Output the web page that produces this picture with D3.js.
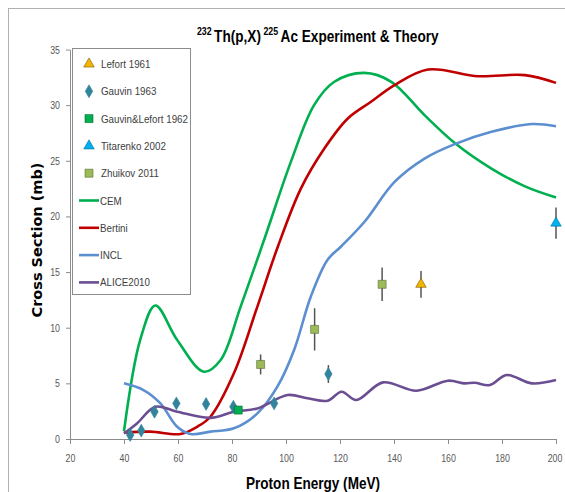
<!DOCTYPE html>
<html lang="en">
<head>
    <meta charset="UTF-8">
    <title>232Th(p,X)225Ac Experiment & Theory</title>
    <script src="https://d3js.org/d3.v7.min.js"></script>
    <style>
        body { margin: 0; background: #fff; }
        text { font-family: "Liberation Sans", Arial, sans-serif; }
    </style>
</head>
<body>
    <svg></svg>
    <script>
        const w = 565;
        const h = 492;

        // theory curves: [energy, cross section]
        const cem = [[40, 0.7], [46, 8.9], [51.6, 12.0], [59.7, 8.9], [69.6, 6.05], [75.8, 7.1], [83.2, 11.9],
            [91.9, 17.9], [101.8, 24.9], [110.4, 30.0], [117.9, 32.1], [129, 32.9], [139, 32.1], [151.3, 29.1],
            [162.5, 26.6], [176.1, 24.3], [188.5, 22.7], [200, 21.7]];
        const bertini = [[40, 0.57], [49.7, 0.66], [60.9, 0.45], [67.1, 1.1], [72, 2.0], [80.7, 5.9], [89.4, 11.9],
            [97, 17.3], [105.5, 22.5], [114.2, 26.1], [122.9, 28.8], [131.5, 30.3], [140.2, 31.8], [152.6, 33.2],
            [171.2, 32.6], [188.5, 32.7], [200, 32.0]];
        const incl = [[40, 5.0], [47.2, 4.4], [53.5, 3.2], [59.7, 1.1], [64.6, 0.45], [72, 0.66], [80.7, 0.96],
            [89.4, 2.3], [96.8, 4.7], [103, 8.0], [109.2, 12.8], [115.4, 16.1], [120.4, 17.3], [129, 19.5],
            [140.2, 23.1], [151.3, 25.2], [162.5, 26.5], [176.1, 27.6], [191, 28.3], [200, 28.1]];
        const alice = [[40, 0.5], [44.8, 1.4], [51.6, 2.9], [59.7, 2.45], [72, 1.9], [80.7, 2.45], [89.4, 2.75],
            [100.6, 3.95], [108, 3.66], [115.4, 3.44], [120.6, 4.25], [126, 3.5], [135.9, 5.09], [148.3, 4.34],
            [160, 5.24], [166.2, 5.0], [169.9, 5.06], [175.5, 4.85], [181.7, 5.75], [191, 5.0], [200, 5.3]];

        // experiments: [energy, cross section, error]
        const lefort = [[150, 13.9, 1.2]];
        const gauvin = [[42.3, 0.36, 0], [46.4, 0.75, 0], [51.3, 2.45, 0], [59.4, 3.2, 0], [70.4, 3.15, 0],
            [80.5, 2.9, 0], [95.6, 3.2, 0], [115.7, 5.84, 0.8]];
        const gauvinLefort = [[82.3, 2.6, 0]];
        const titarenko = [[200, 19.4, 1.4]];
        const zhuikov = [[90.6, 6.7, 0.9], [110.6, 9.85, 1.9], [135.6, 13.9, 1.5]];

        const xTicks = [20, 40, 60, 80, 100, 120, 140, 160, 180, 200];
        const yTicks = [0, 5, 10, 15, 20, 25, 30, 35];

        const svg = d3.select("svg")
            .attr("width", w)
            .attr("height", h);

        // squeeze text a bit, the original uses a narrow font
        function narrow(sel, k) {
            sel.each(function () {
                const len = this.getComputedTextLength();
                d3.select(this).attr("textLength", len * k).attr("lengthAdjust", "spacingAndGlyphs");
            });
        }

        // outer chart frame
        svg.append("rect")
            .attr("x", 8.5).attr("y", 8.5)
            .attr("width", 600).attr("height", 600)
            .attr("fill", "none")
            .attr("stroke", "#b0b0b0");

        const x = d3.scaleLinear().domain([20, 200]).range([70, 556]);
        const y = d3.scaleLinear().domain([0, 35]).range([439, 49.5]);

        const xAxis = svg.append("g")
            .attr("transform", "translate(0,439)")
            .call(d3.axisBottom(x).tickValues(xTicks).tickSize(5).tickSizeOuter(0).tickPadding(10));
        const yAxis = svg.append("g")
            .attr("transform", "translate(70,0)")
            .call(d3.axisLeft(y).tickValues(yTicks).tickSize(4).tickSizeOuter(0).tickPadding(6));
        [xAxis, yAxis].forEach(a => {
            a.select(".domain").attr("stroke", "#8c8c8c");
            a.selectAll(".tick line").attr("stroke", "#8c8c8c");
            a.selectAll(".tick text")
                .attr("fill", "#595959")
                .style("font-size", "11px")
                .style("font-family", "'Liberation Sans', sans-serif")
                .call(narrow, 0.8);
        });
        // keep the last label inside the window
        xAxis.selectAll(".tick text").filter(d => d === 200).attr("dx", -1.5);

        // title, built from separate pieces so the superscripts don't collide
        const titleParts = [
            { t: "232", sup: true }, { t: "Th(p,X)", sup: false },
            { t: "225", sup: true }, { t: "Ac Experiment & Theory", sup: false }
        ];
        const title = svg.append("g");
        let tx = 0;
        titleParts.forEach(p => {
            const el = title.append("text")
                .attr("x", tx)
                .attr("y", p.sup ? -7 : 0)
                .style("font-size", p.sup ? "11px" : "17px")
                .style("font-weight", "bold")
                .attr("fill", "#000")
                .text(p.t);
            const len = el.node().getComputedTextLength() * 0.8;
            el.attr("textLength", len).attr("lengthAdjust", "spacingAndGlyphs");
            tx += len + 2.5;
        });
        title.attr("transform", `translate(${319 - tx / 2},42)`);

        svg.append("text")
            .attr("transform", "translate(42,240) rotate(-90)")
            .attr("text-anchor", "middle")
            .style("font-family", "'DejaVu Sans', sans-serif")
            .style("font-size", "14.5px")
            .style("font-weight", "bold")
            .text("Cross Section (mb)");

        svg.append("text")
            .attr("x", 313).attr("y", 489)
            .attr("text-anchor", "middle")
            .style("font-size", "17px")
            .style("font-weight", "bold")
            .attr("textLength", 134)
            .attr("lengthAdjust", "spacingAndGlyphs")
            .text("Proton Energy (MeV)");

        // curves
        const line = d3.line()
            .x(d => x(d[0]))
            .y(d => y(d[1]))
            .curve(d3.curveCatmullRom.alpha(0.5));

        const curves = [
            { data: cem, color: "#00b050", name: "CEM" },
            { data: bertini, color: "#c00000", name: "Bertini" },
            { data: incl, color: "#5b8fd0", name: "INCL" },
            { data: alice, color: "#6b4e92", name: "ALICE2010" }
        ];
        curves.forEach(c => {
            svg.append("path")
                .datum(c.data)
                .attr("fill", "none")
                .attr("stroke", c.color)
                .attr("stroke-width", 2.6)
                .attr("stroke-linejoin", "round")
                .attr("d", line);
        });

        // markers
        const tri = d3.symbol().type(d3.symbolTriangle).size(48);
        const dia = d3.symbol().type(d3.symbolDiamond).size(48);
        const sq = d3.symbol().type(d3.symbolSquare).size(64);

        const sets = [
            { data: lefort, shape: tri, fill: "#f5b400", stroke: "#7a5a00", name: "Lefort 1961" },
            { data: gauvin, shape: dia, fill: "#31849b", stroke: "#31849b", name: "Gauvin 1963" },
            { data: gauvinLefort, shape: sq, fill: "#00b050", stroke: "#006a30", name: "Gauvin&Lefort 1962" },
            { data: titarenko, shape: tri, fill: "#00b0f0", stroke: "#0070a0", name: "Titarenko 2002" },
            { data: zhuikov, shape: sq, fill: "#9bbb59", stroke: "#5b6b35", name: "Zhuikov 2011" }
        ];
        sets.forEach(s => {
            const g = svg.append("g");
            g.selectAll("line")
                .data(s.data.filter(d => d[2] > 0))
                .enter()
                .append("line")
                .attr("x1", d => x(d[0])).attr("x2", d => x(d[0]))
                .attr("y1", d => y(d[1] - d[2])).attr("y2", d => y(d[1] + d[2]))
                .attr("stroke", "#555")
                .attr("stroke-width", 1.5);
            g.selectAll("path")
                .data(s.data)
                .enter()
                .append("path")
                .attr("d", s.shape)
                .attr("transform", d => `translate(${x(d[0])},${y(d[1])})`)
                .attr("fill", s.fill)
                .attr("stroke", s.stroke)
                .attr("stroke-width", 0.6);
        });

        // legend
        const legend = svg.append("g");
        legend.append("rect")
            .attr("x", 72.5).attr("y", 48.5)
            .attr("width", 118).attr("height", 246)
            .attr("fill", "#fff")
            .attr("stroke", "#8c8c8c");

        const items = sets.map(s => ({ type: "marker", s: s })).concat(curves.map(c => ({ type: "line", c: c })));
        items.forEach((it, i) => {
            const ly = 64 + i * 27.3;
            if (it.type === "marker") {
                legend.append("path")
                    .attr("d", it.s.shape)
                    .attr("transform", `translate(89,${ly})`)
                    .attr("fill", it.s.fill)
                    .attr("stroke", it.s.stroke)
                    .attr("stroke-width", 0.6);
            } else {
                legend.append("line")
                    .attr("x1", 79).attr("x2", 99)
                    .attr("y1", ly).attr("y2", ly)
                    .attr("stroke", it.c.color)
                    .attr("stroke-width", 2.6);
            }
            legend.append("text")
                .attr("x", it.type === "marker" ? 101 : 100).attr("y", ly + 4)
                .attr("fill", "#404040")
                .style("font-size", "11.5px")
                .text(it.type === "marker" ? it.s.name : it.c.name)
                .call(narrow, 0.85);
        });
    </script>
</body>
</html>
